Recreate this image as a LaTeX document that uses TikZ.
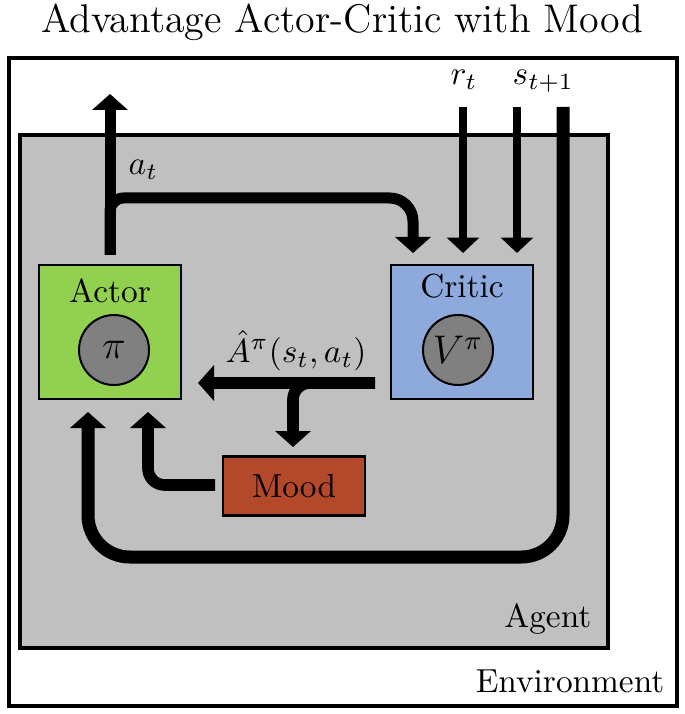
\documentclass[tikz,border=0pt]{standalone}
\usetikzlibrary{arrows.meta}

\definecolor{agentgray}{RGB}{192,192,192}
\definecolor{actorgreen}{RGB}{146,208,80}
\definecolor{criticblue}{RGB}{142,169,219}
\definecolor{moodred}{RGB}{180,72,42}
\definecolor{circgray}{RGB}{128,128,128}

\tikzset{
    block/.style={draw, line width=0.8pt, minimum width=42.6pt, minimum height=40.2pt, inner sep=0pt},
    valcirc/.style={circle, draw, line width=0.6pt, fill=circgray, minimum size=21pt, inner sep=0pt, font=\large},
    flow/.style={line width=3.3pt, -{Triangle[width=10.5pt,length=4.8pt]}},
    thinflow/.style={flow, line width=2.4pt, -{Triangle[width=9.5pt,length=4.6pt]}},
    lbl/.style={inner sep=0pt},
}

\begin{document}
\begin{tikzpicture}[x=0.3pt, y=-0.3pt]
    \useasboundingbox (0,0) rectangle (684,714);
    % environment and agent frames
    \draw[line width=1pt] (9,58) rectangle (677,706);
    \draw[line width=1pt, fill=agentgray] (20,135) rectangle (608,648);
    \node (title) [lbl, anchor=base, font=\large] at (342,33) {Advantage Actor-Critic with Mood};
    \node (env) [lbl, anchor=base east] at (665,692) {Environment};
    \node (agent) [lbl, anchor=base east] at (592,627) {Agent};

    % blocks
    \node[block, fill=actorgreen] (actor) at (110,332) {};
    \node[block, fill=criticblue] (critic) at (462,332) {};
    \node[block, fill=moodred, minimum height=17.7pt] (mood) at (294,486) {Mood};
    \node (actorlbl) [lbl, anchor=base] at (110,303) {Actor};
    \node (criticlbl) [lbl, anchor=base] at (462,298) {Critic};
    \node[valcirc] (pi) at (114,350) {$\pi$};
    \node[valcirc] (vpi) at (458,350) {$V^\pi$};

    % free ends and turns
    \coordinate (actbase) at (110,255);
    \coordinate (actout) at (110,94);
    \coordinate (atturn) at (110,198);
    \coordinate (critin1) at (413,253);
    \coordinate (rtop) at (463,107);
    \coordinate (critin2) at (463,253);
    \coordinate (stop) at (517,107);
    \coordinate (critin3) at (517,253);
    \coordinate (envtop) at (563,107);
    \coordinate (envturn) at (563,557);
    \coordinate (actin1) at (88,412);
    \coordinate (actin2) at (148,412);
    \coordinate (actin3) at (198,383);
    \coordinate (advstart) at (375,383);
    \coordinate (moodin) at (293,447);
    \coordinate (moodout) at (215,485);

    % connectors
    \draw[flow] (actbase) -- (actout);
    \draw[flow] (actbase) [rounded corners=4pt] -- (atturn) [rounded corners=7pt] -| (critin1);
    \draw[thinflow] (rtop) -- (critin2);
    \draw[thinflow] (stop) -- (critin3);
    \draw[flow, line width=3.9pt, rounded corners=12.5pt] (envtop) -- (envturn) -| (actin1);
    \draw[flow, line width=3.5pt] (advstart) -- (actin3);
    \draw[flow, line width=3.5pt, rounded corners=5pt] (advstart) -| (moodin);
    \draw[flow, line width=3.5pt, rounded corners=5pt] (moodout) -| (actin2);

    % labels
    \node (atlbl) [lbl, anchor=base west] at (128,175) {$a_t$};
    \node (rlbl) [lbl, anchor=base west] at (450,85) {$r_t$};
    \node (slbl) [lbl, anchor=base west] at (512,85) {$s_{t+1}$};
    \node (advlbl) [lbl, anchor=base] at (296,362) {$\hat{A}^\pi(s_t,a_t)$};
\end{tikzpicture}
\end{document}
